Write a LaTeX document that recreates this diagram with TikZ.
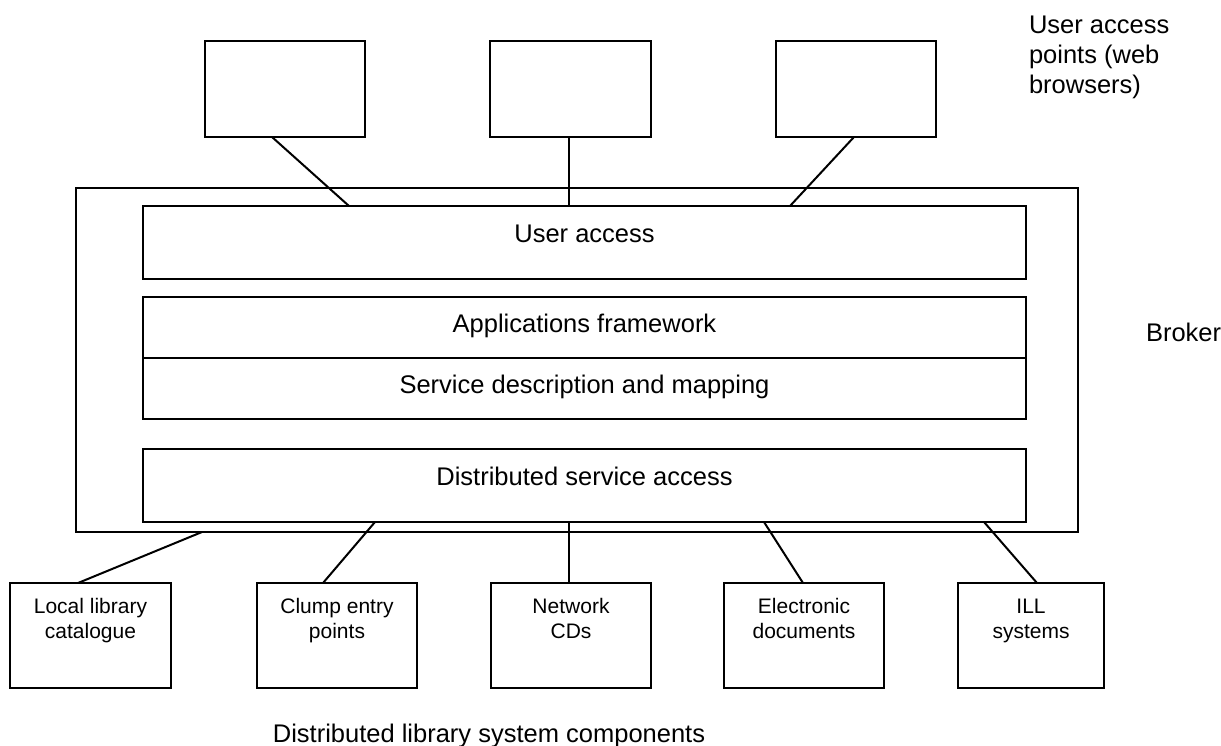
\documentclass[tikz,border=0pt]{standalone}
\usepackage{fontspec}
\setmainfont{Liberation Sans}
\usetikzlibrary{calc}
\newcommand{\bigf}{\fontsize{25.5}{30}\selectfont}
\newcommand{\smallf}{\fontsize{21}{25}\selectfont}
\begin{document}
\begin{tikzpicture}[x=1pt,y=-1pt,
  box/.style={draw=black,line width=2pt,inner sep=0pt,outer sep=0pt,rectangle},
  topbox/.style={box,minimum width=160pt,minimum height=96pt},
  layer/.style={box,minimum width=883pt,font=\bigf,align=center},
  comp/.style={box,minimum width=160pt,minimum height=105pt,font=\smallf,align=center,text height=55pt,text depth=50pt},
  link/.style={line width=2pt},
  lbl/.style={inner sep=0pt,outer sep=0pt}]
\useasboundingbox (0,0) rectangle (1221,745);
% user access points
\node[topbox] (t1) at (285,89) {};
\node[topbox,minimum width=161pt] (t2) at (570.5,89) {};
\node[topbox] (t3) at (856,89) {};
% broker
\node[box,minimum width=1002pt,minimum height=344pt] (outer) at (577,360) {};
\node[layer,text height=36pt,text depth=37pt] (ua) at (584.5,242.5) {User access};
\node[layer,text height=35pt,text depth=26pt] (af) at (584.5,327.5) {Applications framework};
\node[layer,text height=35pt,text depth=26pt] (sd) at (584.5,388.5) {Service description and mapping};
\node[layer,text height=36pt,text depth=37pt] (dsa) at (584.5,485.5) {Distributed service access};
% components
\node[comp,minimum width=161pt] (loc) at (90.5,635.5) {Local library\\catalogue};
\node[comp] (clump) at (337,635.5) {Clump entry\\points};
\node[comp] (net) at (571,635.5) {Network\\CDs};
\node[comp] (elec) at (804,635.5) {Electronic\\documents};
\node[comp,minimum width=146pt] (ill) at (1031,635.5) {ILL\\systems};
% connectors top
\draw[link] ([xshift=-13pt]t1.south) -- ([xshift=-235.5pt]ua.north);
\draw[link] ([xshift=-1.5pt]t2.south) -- ([xshift=-15.5pt]ua.north);
\draw[link] ([xshift=-2pt]t3.south) -- ([xshift=205.5pt]ua.north);
% connectors bottom
\draw[link] ([xshift=-12.5pt]loc.north) -- ([xshift=-375pt]outer.south);
\draw[link] ([xshift=-14pt]clump.north) -- ([xshift=-209.5pt]dsa.south);
\draw[link] ([xshift=-2pt]net.north) -- ([xshift=-15.5pt]dsa.south);
\draw[link] ([xshift=-1pt]elec.north) -- ([xshift=179.5pt]dsa.south);
\draw[link] ([xshift=6pt]ill.north) -- ([xshift=399.5pt]dsa.south);
% labels
\node[lbl,font=\bigf,align=left,anchor=base west] (uap) at (1029,93) {User access\\points (web\\browsers)};
\node[lbl,font=\bigf,anchor=base west] (broker) at (1146,341) {Broker};
\node[lbl,font=\bigf,anchor=base] (cap) at (489,742) {Distributed library system components};
\end{tikzpicture}
\end{document}
